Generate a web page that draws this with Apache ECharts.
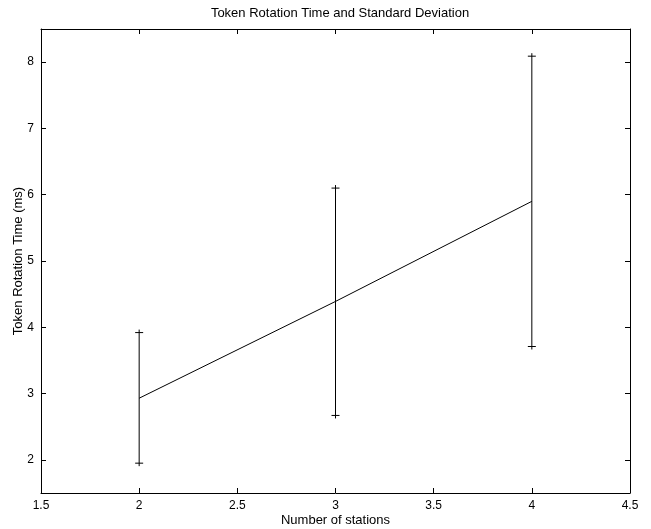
<!DOCTYPE html>
<html>
<head>
<meta charset="utf-8">
<script src="https://cdn.jsdelivr.net/npm/echarts@6/dist/echarts.min.js"></script>
<style>
  html, body { margin: 0; padding: 0; background: #fff; }
  #chart { width: 651px; height: 529px; }
</style>
</head>
<body>
<div id="chart"></div>
<script>
// number of stations
const stations = [2, 3, 4];
// mean token rotation time (ms)
const meanTime = [2.93, 4.39, 5.9];
// mean - std / mean + std
const lowerTime = [1.95, 2.67, 3.71];
const upperTime = [3.92, 6.1, 8.09];
const yTicks = [2, 3, 4, 5, 6, 7, 8];

const font = 'Liberation Sans, Arial, sans-serif';
const chart = echarts.init(document.getElementById('chart'));

const lineData = stations.map((s, i) => [s, meanTime[i]]);
const errData = stations.map((s, i) => [s, lowerTime[i], upperTime[i]]);

// 误差线: vertical bar + caps
function renderErr(params, api) {
  const x = api.value(0);
  const lo = api.coord([x, api.value(1)]);
  const hi = api.coord([x, api.value(2)]);
  const w = 4;
  const style = { stroke: '#000', lineWidth: 1 };
  return {
    type: 'group',
    children: [
      { type: 'line', shape: { x1: lo[0], y1: lo[1] + 3, x2: hi[0], y2: hi[1] - 3 }, style: style },
      { type: 'line', shape: { x1: lo[0] - w, y1: lo[1], x2: lo[0] + w, y2: lo[1] }, style: style },
      { type: 'line', shape: { x1: hi[0] - w, y1: hi[1], x2: hi[0] + w, y2: hi[1] }, style: style }
    ]
  };
}

const axisCommon = {
  axisLine: { show: true, onZero: false, lineStyle: { color: '#000', width: 1 } },
  axisTick: { show: true, inside: true, length: 5, lineStyle: { color: '#000' } },
  splitLine: { show: false }
};

const option = {
  animation: false,
  backgroundColor: '#fff',
  title: {
    text: 'Token Rotation Time and Standard Deviation',
    left: 335,
    textAlign: 'center',
    top: 2,
    textStyle: { fontFamily: font, fontSize: 13, fontWeight: 'normal', color: '#000' }
  },
  grid: { left: 41, right: 21, top: 29, bottom: 36, containLabel: false, outerBoundsMode: 'none' },
  xAxis: [
    Object.assign({}, axisCommon, {
      type: 'value', min: 1.5, max: 4.5, interval: 0.5, position: 'bottom',
      name: 'Number of stations', nameLocation: 'middle', nameGap: 21, nameMoveOverlap: false,
      nameTextStyle: { fontFamily: font, fontSize: 13, color: '#000' },
      axisLabel: { fontFamily: font, fontSize: 12, color: '#000', margin: 7 }
    }),
    Object.assign({}, axisCommon, {
      type: 'value', min: 1.5, max: 4.5, interval: 0.5, position: 'top',
      axisLabel: { show: false }
    })
  ],
  yAxis: [
    Object.assign({}, axisCommon, {
      type: 'value', min: 1.5, max: 8.5, position: 'left',
      name: 'Token Rotation Time (ms)', nameLocation: 'middle', nameGap: 16, nameMoveOverlap: false,
      nameTextStyle: { fontFamily: font, fontSize: 13, color: '#000' },
      axisTick: { show: true, inside: true, length: 5, lineStyle: { color: '#000' }, customValues: yTicks },
      axisLabel: { fontFamily: font, fontSize: 12, color: '#000', margin: 7, customValues: yTicks }
    }),
    Object.assign({}, axisCommon, {
      type: 'value', min: 1.5, max: 8.5, position: 'right',
      axisTick: { show: true, inside: true, length: 5, lineStyle: { color: '#000' }, customValues: yTicks },
      axisLabel: { show: false }
    })
  ],
  series: [
    {
      type: 'line',
      data: lineData,
      symbol: 'none',
      lineStyle: { color: '#000', width: 1 },
      z: 3
    },
    {
      type: 'custom',
      data: errData,
      renderItem: renderErr,
      encode: { x: 0, y: [1, 2] },
      z: 4
    }
  ]
};
chart.setOption(option);
</script>
</body>
</html>
